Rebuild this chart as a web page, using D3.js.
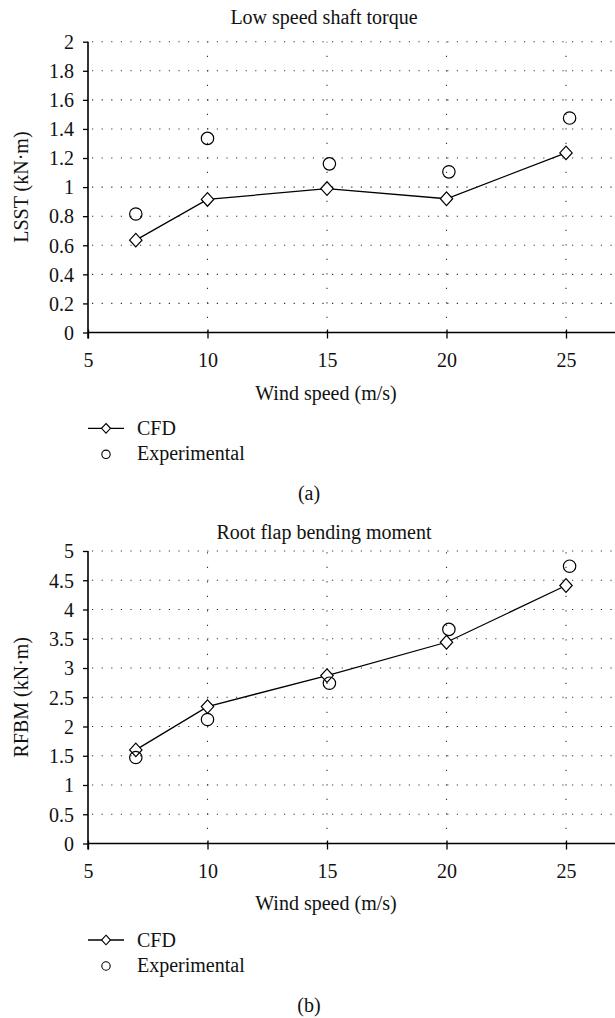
<!DOCTYPE html>
<html>
<head>
<meta charset="utf-8">
<script src="https://cdn.jsdelivr.net/npm/d3@7"></script>
<style>
  html, body { margin: 0; padding: 0; background: #fff; }
  svg { display: block; }
  svg text { font-family: "Liberation Serif", "Times New Roman", Times, serif !important; fill: #111; }
</style>
</head>
<body>
<svg id="chart" width="615" height="1018"></svg>
<script>
// ---- data ----
const windSpeeds = [7, 10, 15, 20, 25];
const expWindSpeeds = [7, 10, 15.1, 20.1, 25.15];
const lsstCFD = [0.635, 0.915, 0.99, 0.92, 1.235];
const lsstExp = [0.815, 1.335, 1.16, 1.105, 1.475];
const rfbmCFD = [1.6, 2.34, 2.87, 3.44, 4.41];
const rfbmExp = [1.47, 2.12, 2.74, 3.66, 4.74];
const xTicks = [5, 10, 15, 20, 25];
const lsstTicks = [0, 0.2, 0.4, 0.6, 0.8, 1, 1.2, 1.4, 1.6, 1.8, 2];
const rfbmTicks = [0, 0.5, 1, 1.5, 2, 2.5, 3, 3.5, 4, 4.5, 5];
const seriesNames = ["CFD", "Experimental"];
const titles = ["Low speed shaft torque", "Root flap bending moment"];
const yLabels = ["LSST (kN·m)", "RFBM (kN·m)"];
const xLabel = "Wind speed (m/s)";
const panelLabels = ["(a)", "(b)"];

const svg = d3.select("#chart");
const FS = 20;
const FONT = "Liberation Serif";

function diamondPath(cx, cy, hw, hh) {
  return `M${cx},${cy - hh}L${cx + hw},${cy}L${cx},${cy + hh}L${cx - hw},${cy}Z`;
}

function txt(sel) {
  return sel.attr("font-family", FONT).style("font-family", "'Liberation Serif', serif").attr("font-size", FS);
}

function drawPanel(p) {
  const g = svg.append("g");
  const x = d3.scaleLinear().domain([5, 27.05]).range([88, 615]);
  const y = d3.scaleLinear().domain([0, p.yMax]).range([p.bottom, p.top]);

  // horizontal grid
  g.selectAll(".hg").data(p.yTicks.filter(t => t > 0)).join("line")
    .attr("x1", 92).attr("x2", 615)
    .attr("y1", d => y(d)).attr("y2", d => y(d))
    .attr("stroke", "#333").attr("stroke-width", 1.1)
    .attr("stroke-dasharray", "1.2 8.4");
  // vertical grid
  g.selectAll(".vg").data(xTicks.filter(t => t > 5)).join("line")
    .attr("x1", d => x(d)).attr("x2", d => x(d))
    .attr("y1", p.bottom).attr("y2", p.top)
    .attr("stroke", "#333").attr("stroke-width", 1.1)
    .attr("stroke-dasharray", "1.2 13.3");

  // axes
  const yAxis = d3.axisLeft(y).tickValues(p.yTicks).tickFormat(d => String(d)).tickSize(5).tickPadding(9);
  const ya = g.append("g").attr("transform", "translate(88,0)").call(yAxis);
  const xAxis = d3.axisBottom(x).tickValues(xTicks).tickFormat(d => String(d)).tickSize(6).tickPadding(14);
  const xa = g.append("g").attr("transform", `translate(0,${p.bottom})`).call(xAxis);
  [ya, xa].forEach(a => {
    a.attr("font-family", null).attr("font-size", null);
    a.select(".domain").attr("stroke", "#000").attr("stroke-width", 1.6);
    a.selectAll(".tick line").attr("stroke", "#000").attr("stroke-width", 1.3);
    txt(a.selectAll(".tick text")).attr("fill", "#111");
  });
  ya.select(".domain").attr("d", `M-0,${p.bottom + 6}V${p.top}`);
  xa.select(".domain").attr("d", `M88,0H615`);
  xa.selectAll(".tick line").attr("y1", -3);
  ya.selectAll(".tick text").attr("dy", "0.34em");

  // CFD line
  const line = d3.line().x(d => x(d[0])).y(d => y(d[1]));
  const cfd = windSpeeds.map((w, i) => [w, p.cfd[i]]);
  g.append("path").attr("d", line(cfd)).attr("fill", "none")
    .attr("stroke", "#000").attr("stroke-width", 1.3);
  g.selectAll(".dm").data(cfd).join("path")
    .attr("d", d => diamondPath(x(d[0]), y(d[1]), 6.2, 6.8))
    .attr("fill", "#fff").attr("stroke", "#000").attr("stroke-width", 1.2);
  // Experimental circles
  const exp = expWindSpeeds.map((w, i) => [w, p.exp[i]]);
  g.selectAll(".ci").data(exp).join("circle")
    .attr("cx", d => x(d[0])).attr("cy", d => y(d[1])).attr("r", 6.2)
    .attr("fill", "none").attr("stroke", "#000").attr("stroke-width", 1.2);

  // title
  txt(g.append("text")).attr("x", 324).attr("y", p.titleY).attr("dy", "0.35em")
    .attr("text-anchor", "middle").text(p.title);
  // x label
  txt(g.append("text")).attr("x", 326).attr("y", p.xLabelY).attr("dy", "0.35em")
    .attr("text-anchor", "middle").text(xLabel);
  // y label
  txt(g.append("text"))
    .attr("transform", `translate(21,${(p.top + p.bottom) / 2}) rotate(-90)`)
    .attr("dy", "0.35em").attr("text-anchor", "middle").text(p.yLabel);

  // legend
  const lg = g.append("g");
  lg.append("line").attr("x1", 88).attr("x2", 124).attr("y1", p.legY).attr("y2", p.legY)
    .attr("stroke", "#000").attr("stroke-width", 1.3);
  lg.append("path").attr("d", diamondPath(106, p.legY, 4.5, 4.8))
    .attr("fill", "#fff").attr("stroke", "#000").attr("stroke-width", 1.1);
  txt(lg.append("text")).attr("x", 137).attr("y", p.legY).attr("dy", "0.35em")
    .text(seriesNames[0]);
  lg.append("circle").attr("cx", 106).attr("cy", p.legY + 26).attr("r", 4.2)
    .attr("fill", "none").attr("stroke", "#000").attr("stroke-width", 1.1);
  txt(lg.append("text")).attr("x", 137).attr("y", p.legY + 25).attr("dy", "0.35em")
    .text(seriesNames[1]);

  // panel label
  txt(g.append("text")).attr("x", 309).attr("y", p.panelY).attr("dy", "0.35em")
    .attr("text-anchor", "middle").text(p.panel);
}

drawPanel({
  top: 41.7, bottom: 332.5, yMax: 2, yTicks: lsstTicks,
  cfd: lsstCFD, exp: lsstExp,
  title: titles[0], yLabel: yLabels[0], panel: panelLabels[0],
  titleY: 16.5, xLabelY: 392.5, legY: 428.3, panelY: 493
});
drawPanel({
  top: 551, bottom: 843.5, yMax: 5, yTicks: rfbmTicks,
  cfd: rfbmCFD, exp: rfbmExp,
  title: titles[1], yLabel: yLabels[1], panel: panelLabels[1],
  titleY: 531.5, xLabelY: 903, legY: 940, panelY: 1005
});
</script>
</body>
</html>
